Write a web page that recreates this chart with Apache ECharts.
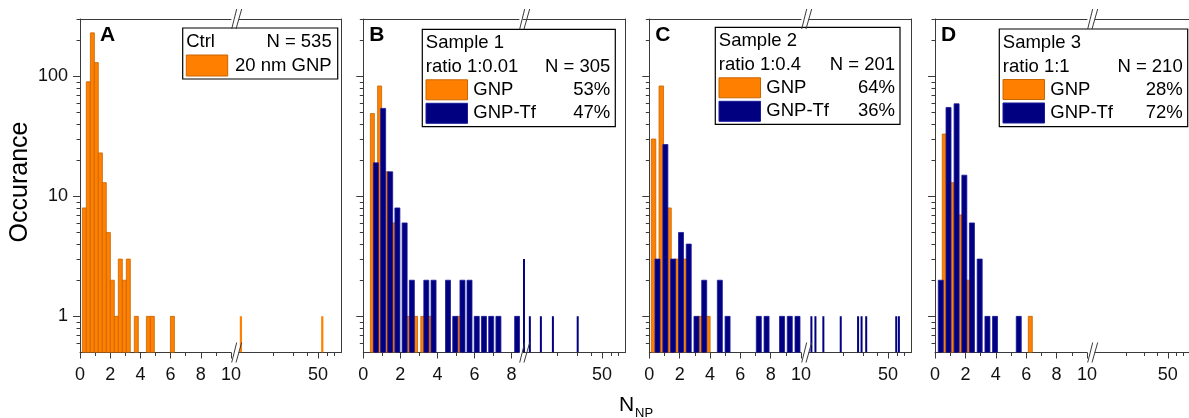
<!DOCTYPE html>
<html><head><meta charset="utf-8">
<script src="https://cdn.jsdelivr.net/npm/echarts@6/dist/echarts.min.js"></script>
<style>html,body{margin:0;padding:0;background:#fff}#c{width:1189px;height:418px}</style>
</head><body><div id="c"></div>
<script>
// ---------------- data ----------------
const panelLetters = ['A', 'B', 'C', 'D'];
const legendTitles = ['Ctrl', 'Sample 1', 'Sample 2', 'Sample 3'];
const legendRatios = ['', 'ratio 1:0.01', 'ratio 1:0.4', 'ratio 1:1'];
const legendN = ['N = 535', 'N = 305', 'N = 201', 'N = 210'];
const gnpLabels = ['20 nm GNP', 'GNP', 'GNP', 'GNP'];
const gnpPct = ['', '53%', '64%', '28%'];
const tfPct = ['', '47%', '36%', '72%'];
const yTitle = 'Occurance';
const xTitleMain = 'N';
const xTitleSub = 'NP';

const yTickValues = [1, 10, 100];
const yMinorValues = [0.6, 0.7, 0.8, 0.9, 2, 3, 4, 5, 6, 7, 8, 9, 20, 30, 40, 50, 60, 70, 80, 90, 200, 300];
const xLinLabelsA = [0, 2, 4, 6, 8, 10];
const xLinLabelsB = [0, 2, 4, 6, 8];
const xLinMinor = [1, 3, 5, 7, 9];
const xLogLabels = [50];
const xLogMinor = [20, 30, 40, 60, 70];

// panel A (Ctrl, 20 nm GNP)
const A_gnp_x = [0.29, 0.55, 0.82, 1.08, 1.35, 1.61, 1.88, 2.14, 2.41, 2.67, 2.94, 3.20, 3.73, 4.53, 4.79, 6.12, 10.4, 54.6];
const A_gnp_n = [8, 90, 230, 130, 23, 13, 5, 2, 1, 3, 2, 3, 1, 1, 1, 1, 1, 1];
// panel B (Sample 1)
const B_gnp_x = [0.49, 0.88, 1.26, 1.65, 2.43, 2.82, 3.21, 3.60, 5.16];
const B_gnp_n = [49, 83, 16, 6, 1, 1, 1, 1, 1];
const B_tf_x = [0.68, 1.07, 1.45, 1.84, 2.23, 2.62, 3.40, 3.79, 4.57, 4.96, 5.35, 5.73, 6.12, 6.51, 6.90, 7.29, 8.3, 10.2, 11.5, 14.4, 18.4, 30.5];
const B_tf_n = [19, 54, 16, 8, 6, 2, 2, 2, 2, 1, 2, 2, 1, 1, 1, 1, 1, 3, 1, 1, 1, 1];
// panel C (Sample 2)
const C_gnp_x = [0.28, 0.79, 1.30, 1.81, 2.33, 3.35, 3.86];
const C_gnp_n = [30, 83, 8, 3, 3, 1, 1];
const C_tf_x = [0.54, 1.06, 1.57, 2.09, 2.60, 3.11, 3.62, 4.65, 5.16, 7.22, 7.73, 8.75, 9.26, 9.77, 10.5, 11.4, 13.4, 19.1, 27.2, 29.2, 32.1, 59.2, 62.5];
const C_tf_n = [3, 27, 3, 5, 4, 1, 2, 2, 1, 1, 1, 1, 1, 1, 1, 1, 1, 1, 1, 1, 1, 1, 1];
// panel D (Sample 3)
const D_gnp_x = [0.61, 1.12, 1.65, 2.18, 6.27];
const D_gnp_n = [33, 13, 7, 2, 1];
const D_tf_x = [0.38, 0.89, 1.42, 1.93, 2.43, 2.94, 3.45, 3.95, 5.51];
const D_tf_n = [2, 55, 59, 15, 6, 3, 1, 1, 1];

// ---------------- layout / style ----------------
const FONT = '"Liberation Sans", Arial, sans-serif';
const AX = '#3a3a3a';
const ORANGE = '#FF8000', ORANGE_EDGE = '#C86400', NAVY = '#000080', NAVY_EDGE = '#1a1a9a';
const TOP = 19, HEIGHT = 333.5, Y_MIN = 0.5, Y_MAX = 300, LOG_MIN = 10, LOG_MAX = 80;
const PANELS = [
  {left: 80, linEnd: 231, linMax: 10, logStart: 239, right: 341, labels: xLinLabelsA,
   gnp: [A_gnp_x, A_gnp_n], tf: null, gnpW: 4, tfW: 5,
   legend: [182.7, 28, 337.7, 79]},
  {left: 363.3, linEnd: 519, linMax: 8.4, logStart: 523, right: 625, labels: xLinLabelsB,
   gnp: [B_gnp_x, B_gnp_n], tf: [B_tf_x, B_tf_n], gnpW: 4, tfW: 5,
   legend: [422.3, 29.3, 615.3, 126.7]},
  {left: 649.3, linEnd: 801, linMax: 10, logStart: 809, right: 911, labels: xLinLabelsA,
   gnp: [C_gnp_x, C_gnp_n], tf: [C_tf_x, C_tf_n], gnpW: 4.5, tfW: 5,
   legend: [715.3, 27.3, 900, 124.3]},
  {left: 935, linEnd: 1087, linMax: 10, logStart: 1095, right: 1197, labels: xLinLabelsA,
   gnp: [D_gnp_x, D_gnp_n], tf: [D_tf_x, D_tf_n], gnpW: 4, tfW: 5,
   legend: [999.3, 29, 1187.7, 126.7]}
];

function split(xs, ns, lo, hi) {
  const out = [];
  xs.forEach((x, i) => { if (x >= lo && x <= hi) out.push([x, ns[i]]); });
  return out;
}
function renderer(w, fill, stroke) {
  return function (params, api) {
    const x = api.value(0), n = api.value(1);
    const t = api.coord([x, n]);
    const b = api.coord([x, Y_MIN]);
    return {type: 'rect', shape: {x: t[0] - w / 2, y: t[1], width: w, height: b[1] - t[1]},
      style: {fill: fill, stroke: stroke, lineWidth: stroke ? 0.8 : 0}};
  };
}

const grid = [], xAxis = [], yAxis = [], series = [], graphic = [];
const noSplit = {show: false};
PANELS.forEach((P, p) => {
  const gL = grid.length;
  grid.push({left: P.left, top: TOP, width: P.linEnd - P.left, height: HEIGHT});
  grid.push({left: P.logStart, top: TOP, width: P.right - P.logStart, height: HEIGHT});
  const gR = gL + 1;
  const xi = xAxis.length, yi = yAxis.length;
  const line = {show: true, lineStyle: {color: AX, width: 1}};
  const lbl = (vals) => ({show: true, customValues: vals, fontSize: 18, fontFamily: FONT, color: '#111', margin: 14});
  // linear part
  xAxis.push({gridIndex: gL, type: 'value', min: 0, max: P.linMax, position: 'bottom', axisLine: line,
    axisTick: {show: true, customValues: P.labels, length: 6, lineStyle: {color: AX}},
    axisLabel: lbl(P.labels), splitLine: noSplit});
  xAxis.push({gridIndex: gL, type: 'value', min: 0, max: P.linMax, position: 'bottom', axisLine: {show: false},
    axisTick: {show: true, customValues: xLinMinor.filter(v => v < P.linMax), length: 3.5, lineStyle: {color: AX}},
    axisLabel: {show: false}, splitLine: noSplit});
  xAxis.push({gridIndex: gL, type: 'value', min: 0, max: P.linMax, position: 'top', axisLine: line,
    axisTick: {show: false}, axisLabel: {show: false}, splitLine: noSplit});
  // log part
  xAxis.push({gridIndex: gR, type: 'log', logBase: 10, min: LOG_MIN, max: LOG_MAX, position: 'bottom', axisLine: line,
    axisTick: {show: true, customValues: xLogLabels, length: 6, lineStyle: {color: AX}},
    axisLabel: lbl(xLogLabels), splitLine: noSplit});
  xAxis.push({gridIndex: gR, type: 'log', logBase: 10, min: LOG_MIN, max: LOG_MAX, position: 'bottom', axisLine: {show: false},
    axisTick: {show: true, customValues: xLogMinor, length: 3.5, lineStyle: {color: AX}},
    axisLabel: {show: false}, splitLine: noSplit});
  xAxis.push({gridIndex: gR, type: 'log', logBase: 10, min: LOG_MIN, max: LOG_MAX, position: 'top', axisLine: line,
    axisTick: {show: false}, axisLabel: {show: false}, splitLine: noSplit});
  // y axes
  yAxis.push({gridIndex: gL, type: 'log', logBase: 10, min: Y_MIN, max: Y_MAX, position: 'left', axisLine: line,
    axisTick: {show: true, customValues: yTickValues, length: 7, lineStyle: {color: AX}},
    axisLabel: p === 0 ? Object.assign(lbl(yTickValues), {margin: 12}) : {show: false}, splitLine: noSplit});
  yAxis.push({gridIndex: gL, type: 'log', logBase: 10, min: Y_MIN, max: Y_MAX, position: 'left', axisLine: {show: false},
    axisTick: {show: true, customValues: yMinorValues, length: 3.5, lineStyle: {color: AX}},
    axisLabel: {show: false}, splitLine: noSplit});
  yAxis.push({gridIndex: gR, type: 'log', logBase: 10, min: Y_MIN, max: Y_MAX, position: 'right', axisLine: line,
    axisTick: {show: false}, axisLabel: {show: false}, splitLine: noSplit});

  const parts = [[xi, yi, 0, P.linMax], [xi + 3, yi + 2, LOG_MIN, LOG_MAX]];
  parts.forEach(([xa, ya, lo, hi], k) => {
    const logPart = k === 1;
    series.push({type: 'custom', xAxisIndex: xa, yAxisIndex: ya, clip: true, z: 2,
      renderItem: renderer(logPart ? 2.2 : P.gnpW, ORANGE, logPart ? null : ORANGE_EDGE),
      encode: {x: 0, y: 1}, data: split(P.gnp[0], P.gnp[1], lo, hi)});
    if (P.tf) series.push({type: 'custom', xAxisIndex: xa, yAxisIndex: ya, clip: true, z: 3,
      renderItem: renderer(logPart ? 2 : P.tfW, NAVY, logPart ? null : NAVY_EDGE),
      encode: {x: 0, y: 1}, data: split(P.tf[0], P.tf[1], lo, hi)});
  });

  // axis break marks (bottom and top)
  [TOP + HEIGHT, TOP].forEach(yy => {
    const x0 = P.linEnd;
    graphic.push({type: 'line', shape: {x1: x0 + 0.7, y1: yy + 10, x2: x0 + 5.7, y2: yy - 10}, style: {stroke: AX, lineWidth: 1}, z: 100});
    graphic.push({type: 'line', shape: {x1: x0 + 5, y1: yy + 10, x2: x0 + 10.7, y2: yy - 10}, style: {stroke: AX, lineWidth: 1}, z: 100});
  });

  // panel letter
  graphic.push({type: 'text', z: 100, style: {text: panelLetters[p], x: P.left + (p === 0 ? 20 : 6), y: TOP + 16,
    font: 'bold 21px ' + FONT, fill: '#000', textAlign: 'left', align: 'left', textVerticalAlign: 'middle', verticalAlign: 'middle'}});

  // legend box
  const [lx0, ly0, lx1, ly1] = P.legend;
  graphic.push({type: 'rect', z: 90, shape: {x: lx0, y: ly0, width: lx1 - lx0, height: ly1 - ly0},
    style: {fill: '#fff', stroke: '#000', lineWidth: 1.2}});
  const txt = (s, x, y, al) => ({type: 'text', z: 101, style: {text: s, x: x, y: y, font: '18.5px ' + FONT, fill: '#000',
    textAlign: al, align: al, textVerticalAlign: 'middle', verticalAlign: 'middle'}});
  const pad = 3.5;
  if (p === 0) {
    graphic.push(txt(legendTitles[p], lx0 + pad, ly0 + 14, 'left'));
    graphic.push(txt(legendN[p], lx1 - 6, ly0 + 14, 'right'));
    graphic.push({type: 'rect', z: 100, shape: {x: lx0 + 3.6, y: ly0 + 27, width: 41.4, height: 21},
      style: {fill: ORANGE, stroke: ORANGE_EDGE, lineWidth: 1}});
    graphic.push(txt(gnpLabels[p], lx1 - 6, ly0 + 38, 'right'));
  } else {
    graphic.push(txt(legendTitles[p], lx0 + pad, ly0 + 13.5, 'left'));
    graphic.push(txt(legendRatios[p], lx0 + pad, ly0 + 37.5, 'left'));
    graphic.push(txt(legendN[p], lx1 - 5, ly0 + 37.5, 'right'));
    graphic.push({type: 'rect', z: 100, shape: {x: lx0 + 3.7, y: ly0 + 50.5, width: 41.5, height: 20},
      style: {fill: ORANGE, stroke: ORANGE_EDGE, lineWidth: 1}});
    graphic.push({type: 'rect', z: 100, shape: {x: lx0 + 3.7, y: ly0 + 74, width: 41.5, height: 20},
      style: {fill: NAVY, stroke: NAVY_EDGE, lineWidth: 1}});
    graphic.push(txt(gnpLabels[p], lx0 + 51, ly0 + 61, 'left'));
    graphic.push(txt(gnpPct[p], lx1 - 5, ly0 + 61, 'right'));
    graphic.push(txt('GNP-Tf', lx0 + 51, ly0 + 84, 'left'));
    graphic.push(txt(tfPct[p], lx1 - 5, ly0 + 84, 'right'));
  }
});

// axis titles
graphic.push({type: 'text', x: 20, y: 182, rotation: Math.PI / 2, z: 100,
  style: {text: yTitle, x: 0, y: 0, font: '25px ' + FONT, fill: '#000', textAlign: 'center', align: 'center',
    textVerticalAlign: 'middle', verticalAlign: 'middle'}});
graphic.push({type: 'text', z: 100, style: {text: xTitleMain, x: 619, y: 405, font: '21px ' + FONT, fill: '#000',
  textAlign: 'left', align: 'left', textVerticalAlign: 'middle', verticalAlign: 'middle'}});
graphic.push({type: 'text', z: 100, style: {text: xTitleSub, x: 635, y: 413, font: '13px ' + FONT, fill: '#000',
  textAlign: 'left', align: 'left', textVerticalAlign: 'middle', verticalAlign: 'middle'}});

const chart = echarts.init(document.getElementById('c'), null, {renderer: 'canvas'});
chart.setOption({animation: false, backgroundColor: '#fff', grid, xAxis, yAxis, series, graphic});
</script></body></html>
